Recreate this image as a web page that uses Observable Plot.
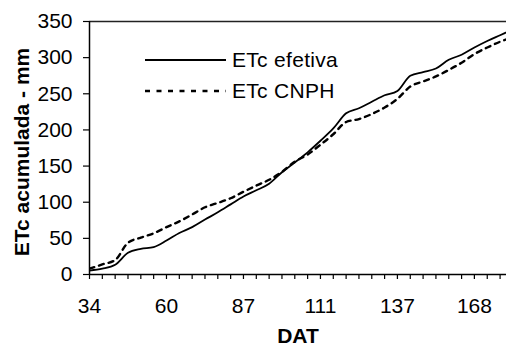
<!DOCTYPE html>
<html>
<head>
<meta charset="utf-8">
<script src="https://cdn.jsdelivr.net/npm/d3@7"></script>
<script src="https://cdn.jsdelivr.net/npm/@observablehq/plot@0.6"></script>
<style>
  html, body { margin: 0; padding: 0; background: #fff; }
  #wrap { position: relative; width: 506px; height: 347px; font-family: "Liberation Sans", Arial, sans-serif; }
  #legend { position: absolute; left: 145px; top: 44px; font-size: 21px; color: #000; }
  .row { display: flex; align-items: center; height: 31px; }
  .row svg { margin-right: 6px; }
  .row span { letter-spacing: 0.3px; }
</style>
</head>
<body>
<div id="wrap">
  <div id="chart"></div>
  <div id="legend"></div>
</div>
<script>
// Category positions (one per tick of the category axis)
const position = d3.range(34);
// Tick labels (DAT) shown every 6th category
const datLabels = ["34", "60", "87", "111", "137", "168"];
const labelPos = [0, 6, 12, 18, 24, 30];
const yTicks = [0, 50, 100, 150, 200, 250, 300, 350];

// Series values (mm)
const etcEfetiva = [5.5, 8, 13.5, 30, 35.5, 38, 47, 57.5, 65.5, 76, 86, 97, 108, 116.5, 125.5, 141.5, 155, 169, 185, 202, 223, 230, 239, 248, 254, 275, 280, 285, 297, 304, 314, 323, 331, 339];
const etcCNPH   = [8, 14, 20, 44, 51, 57, 65.5, 73.5, 83, 93, 99, 105.5, 114.5, 123, 131, 142, 156, 166, 179.5, 194, 211, 215, 222, 231, 243, 260, 267, 274, 283, 293, 305, 314, 322, 328];

const seriesNames = ["ETc efetiva", "ETc CNPH"];
const rows = [];
position.forEach((p, i) => {
  rows.push({pos: p, v: etcEfetiva[i], s: seriesNames[0]});
  rows.push({pos: p, v: etcCNPH[i], s: seriesNames[1]});
});

const font = "'Liberation Sans', Arial, sans-serif";
const chart = Plot.plot({
  width: 506,
  height: 347,
  marginLeft: 89,
  marginRight: 0,
  marginTop: 21,
  marginBottom: 73,
  style: {fontFamily: font, fontSize: "21px", color: "#000", background: "#fff", overflow: "visible"},
  x: {domain: [0, 32.5], axis: null},
  y: {domain: [0, 350], axis: null},
  marks: [
    Plot.lineY(rows.filter(d => d.s === seriesNames[0]), {x: "pos", y: "v", stroke: "#000", strokeWidth: 1.8, curve: "monotone-x", clip: true}),
    Plot.lineY(rows.filter(d => d.s === seriesNames[1]), {x: "pos", y: "v", stroke: "#000", strokeWidth: 2.4, strokeDasharray: "5,5", curve: "monotone-x", clip: true}),
    Plot.ruleY([350], {stroke: "#222", strokeWidth: 1.5}),
    Plot.ruleY([0], {stroke: "#000", strokeWidth: 1.5}),
    Plot.ruleX([0], {stroke: "#000", strokeWidth: 1.5}),
    Plot.axisY({ticks: yTicks, tickSize: 6, tickPadding: 11, fontSize: 21, stroke: "#000", strokeWidth: 1.2, label: null}),
    Plot.axisX({ticks: d3.range(0, 33), tickSize: 5, tickFormat: () => "", stroke: "#000", strokeWidth: 1.2, label: null}),
    Plot.axisX({ticks: labelPos, tickSize: 5, tickPadding: 19, tickFormat: (d) => datLabels[labelPos.indexOf(d)], fontSize: 21, stroke: "#000", label: null}),
    Plot.text(["DAT"], {frameAnchor: "bottom", dy: 62, lineAnchor: "middle", textAnchor: "middle", fontWeight: "bold", fontSize: 21, fill: "#000"}),
    Plot.text(["ETc acumulada - mm"], {frameAnchor: "left", dx: -67, dy: 4, rotate: -90, textAnchor: "middle", lineAnchor: "middle", fontWeight: "bold", fontSize: 21, fill: "#000"})
  ]
});
document.getElementById("chart").appendChild(chart);

// Legend
const legend = document.getElementById("legend");
const dashes = [null, "5,6.5"];
const widths = [2, 2.4];
seriesNames.forEach((name, i) => {
  const row = document.createElement("div");
  row.className = "row";
  const ns = "http://www.w3.org/2000/svg";
  const s = document.createElementNS(ns, "svg");
  s.setAttribute("width", 81); s.setAttribute("height", 10);
  const l = document.createElementNS(ns, "line");
  l.setAttribute("x1", 0); l.setAttribute("x2", 81); l.setAttribute("y1", 5); l.setAttribute("y2", 5);
  l.setAttribute("stroke", "#000"); l.setAttribute("stroke-width", widths[i]);
  if (dashes[i]) l.setAttribute("stroke-dasharray", dashes[i]);
  s.appendChild(l);
  row.appendChild(s);
  const t = document.createElement("span");
  t.textContent = name;
  row.appendChild(t);
  legend.appendChild(row);
});
</script>
</body>
</html>
